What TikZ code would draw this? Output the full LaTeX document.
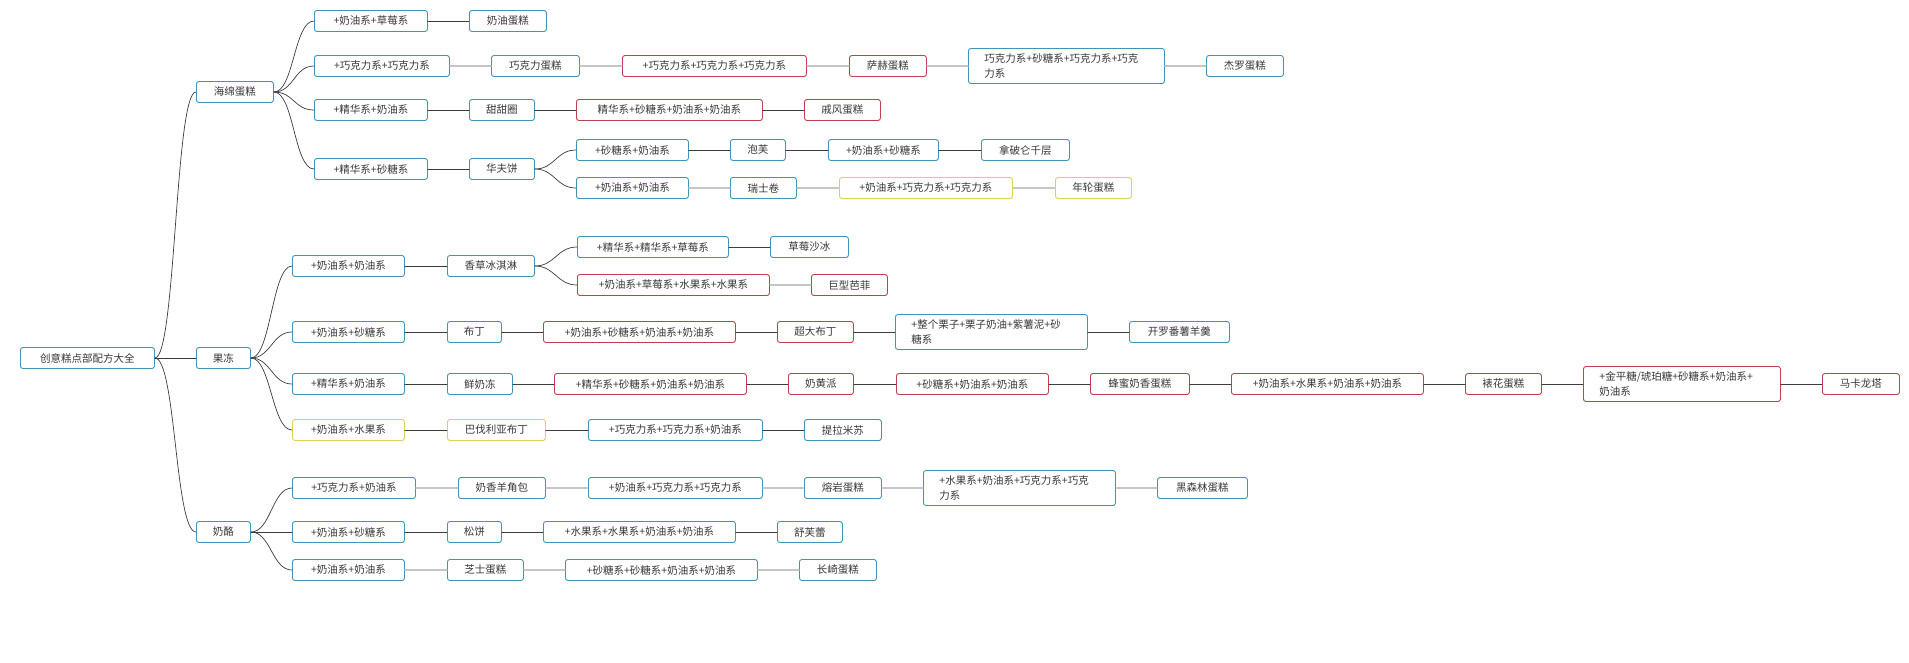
\documentclass[tikz,border=0pt]{standalone}
\usepackage{fontspec}
\newfontfamily\cjk{Noto Sans CJK SC}
\definecolor{bxblue}{HTML}{3A97BA}
\definecolor{bxred}{HTML}{C2404C}
\definecolor{bxyel}{HTML}{E2CF55}
\definecolor{lndark}{HTML}{3C3C3C}
\definecolor{lnlight}{HTML}{C6C6C6}
\tikzset{
  item/.style={draw, rounded corners=2.5pt, fill=white, line width=0.9pt, anchor=west,
    minimum height=21pt, inner xsep=0pt, inner ysep=2pt, text=black!78,
    font=\cjk\fontsize{10.5}{15}\selectfont},
  bb/.style={item, draw=bxblue},
  rb/.style={item, draw=bxred},
  yb/.style={item, draw=bxyel},
  twoline/.style={minimum height=35pt, align=left},
  dk/.style={draw=lndark, line width=0.9pt},
  lt/.style={draw=lnlight, line width=1.1pt},
  fork/.style={draw=lndark, line width=0.7pt},
}
\begin{document}
\begin{tikzpicture}[x=1pt, y=-1pt, line cap=round, line join=round]
    \useasboundingbox[fill=white] (0,0) rectangle (1909,662);
    % root and the three groups
    \node[bb, minimum width=134] (root) at (20,358) {创意糕点部配方大全};
    \node[bb, minimum width=77] (hm) at (196,92) {海绵蛋糕};
    \node[bb, minimum width=54] (gd) at (196,358) {果冻};
    \node[bb, minimum width=54] (nl) at (196,532) {奶酪};
    % 海绵蛋糕
    \node[bb, minimum width=113] (a1) at (314,21) {+奶油系+草莓系};
    \node[bb, minimum width=77] (a2) at (469,21) {奶油蛋糕};
    \node[bb, minimum width=135] (b1) at (314,66) {+巧克力系+巧克力系};
    \node[bb, minimum width=88] (b2) at (491,66) {巧克力蛋糕};
    \node[rb, minimum width=184] (b3) at (622,66) {+巧克力系+巧克力系+巧克力系};
    \node[rb, minimum width=77] (b4) at (849,66) {萨赫蛋糕};
    \node[bb, twoline, minimum width=196, text width=164pt] (b5) at (968,66) {巧克力系+砂糖系+巧克力系+巧克\\力系};
    \node[bb, minimum width=77] (b6) at (1206,66) {杰罗蛋糕};
    \node[bb, minimum width=113] (c1) at (314,110) {+精华系+奶油系};
    \node[bb, minimum width=65] (c2) at (469,110) {甜甜圈};
    \node[rb, minimum width=186] (c3) at (576,110) {精华系+砂糖系+奶油系+奶油系};
    \node[rb, minimum width=76] (c4) at (804,110) {戚风蛋糕};
    \node[bb, minimum width=113] (d1) at (314,169) {+精华系+砂糖系};
    \node[bb, minimum width=65] (d2) at (469,169) {华夫饼};
    \node[bb, minimum width=112] (e1) at (576,150) {+砂糖系+奶油系};
    \node[bb, minimum width=55] (e2) at (730,150) {泡芙};
    \node[bb, minimum width=110] (e3) at (828,150) {+奶油系+砂糖系};
    \node[bb, minimum width=88] (e4) at (981,150) {拿破仑千层};
    \node[bb, minimum width=112] (f1) at (576,188) {+奶油系+奶油系};
    \node[bb, minimum width=66] (f2) at (730,188) {瑞士卷};
    \node[yb, minimum width=173] (f3) at (839,188) {+奶油系+巧克力系+巧克力系};
    \node[yb, minimum width=76] (f4) at (1055,188) {年轮蛋糕};
    % 果冻
    \node[bb, minimum width=112] (g1) at (292,266) {+奶油系+奶油系};
    \node[bb, minimum width=87] (g2) at (447,266) {香草冰淇淋};
    \node[bb, minimum width=151] (h1) at (577,247) {+精华系+精华系+草莓系};
    \node[bb, minimum width=78] (h2) at (770,247) {草莓沙冰};
    \node[rb, minimum width=192] (i1) at (577,285) {+奶油系+草莓系+水果系+水果系};
    \node[rb, minimum width=76] (i2) at (811,285) {巨型芭菲};
    \node[bb, minimum width=112] (j1) at (292,332) {+奶油系+砂糖系};
    \node[bb, minimum width=54] (j2) at (447,332) {布丁};
    \node[rb, minimum width=192] (j3) at (543,332) {+奶油系+砂糖系+奶油系+奶油系};
    \node[rb, minimum width=76] (j4) at (777,332) {超大布丁};
    \node[bb, twoline, minimum width=192, text width=160pt] (j5) at (895,332) {+整个栗子+栗子奶油+紫薯泥+砂\\糖系};
    \node[bb, minimum width=100] (j6) at (1129,332) {开罗番薯羊羹};
    \node[bb, minimum width=112] (k1) at (292,384) {+精华系+奶油系};
    \node[bb, minimum width=65] (k2) at (447,384) {鲜奶冻};
    \node[rb, minimum width=192] (k3) at (554,384) {+精华系+砂糖系+奶油系+奶油系};
    \node[rb, minimum width=65] (k4) at (788,384) {奶黄派};
    \node[rb, minimum width=152] (k5) at (896,384) {+砂糖系+奶油系+奶油系};
    \node[rb, minimum width=99] (k6) at (1090,384) {蜂蜜奶香蛋糕};
    \node[rb, minimum width=192] (k7) at (1231,384) {+奶油系+水果系+奶油系+奶油系};
    \node[rb, minimum width=76] (k8) at (1465,384) {裱花蛋糕};
    \node[rb, twoline, minimum width=197, text width=165pt] (k9) at (1583,384) {+金平糖/琥珀糖+砂糖系+奶油系+\\奶油系};
    \node[rb, minimum width=77] (k10) at (1822,384) {马卡龙塔};
    \node[yb, minimum width=112] (l1) at (292,430) {+奶油系+水果系};
    \node[yb, minimum width=98] (l2) at (447,430) {巴伐利亚布丁};
    \node[bb, minimum width=174] (l3) at (588,430) {+巧克力系+巧克力系+奶油系};
    \node[bb, minimum width=77] (l4) at (804,430) {提拉米苏};
    % 奶酪
    \node[bb, minimum width=123] (m1) at (292,488) {+巧克力系+奶油系};
    \node[bb, minimum width=87] (m2) at (458,488) {奶香羊角包};
    \node[bb, minimum width=174] (m3) at (588,488) {+奶油系+巧克力系+巧克力系};
    \node[bb, minimum width=77] (m4) at (804,488) {熔岩蛋糕};
    \node[bb, twoline, minimum width=192, text width=160pt] (m5) at (923,488) {+水果系+奶油系+巧克力系+巧克\\力系};
    \node[bb, minimum width=90] (m6) at (1157,488) {黑森林蛋糕};
    \node[bb, minimum width=112] (n1) at (292,532) {+奶油系+砂糖系};
    \node[bb, minimum width=54] (n2) at (447,532) {松饼};
    \node[bb, minimum width=192] (n3) at (543,532) {+水果系+水果系+奶油系+奶油系};
    \node[bb, minimum width=65] (n4) at (777,532) {舒芙蕾};
    \node[bb, minimum width=112] (o1) at (292,570) {+奶油系+奶油系};
    \node[bb, minimum width=76] (o2) at (447,570) {芝士蛋糕};
    \node[bb, minimum width=192] (o3) at (565,570) {+砂糖系+砂糖系+奶油系+奶油系};
    \node[bb, minimum width=77] (o4) at (799,570) {长崎蛋糕};
    % curved forks
    \foreach \g in {hm,gd,nl} \draw[fork] (root.east) to[out=0,in=180,distance=21pt] (\g.west);
    \foreach \b in {a1,b1,c1,d1} \draw[fork] (hm.east) to[out=0,in=180,distance=20pt] (\b.west);
    \foreach \b in {g1,j1,k1,l1} \draw[fork] (gd.east) to[out=0,in=180,distance=20pt] (\b.west);
    \foreach \b in {m1,n1,o1} \draw[fork] (nl.east) to[out=0,in=180,distance=20pt] (\b.west);
    \foreach \b in {e1,f1} \draw[fork] (d2.east) to[out=0,in=180,distance=20pt] (\b.west);
    \foreach \b in {h1,i1} \draw[fork] (g2.east) to[out=0,in=180,distance=20pt] (\b.west);
    % straight links
    \foreach \p/\q in {a1/a2,c1/c2,c2/c3,c3/c4,d1/d2,e1/e2,e2/e3,e3/e4,g1/g2,h1/h2,
        j1/j2,j2/j3,j3/j4,j4/j5,j5/j6,k1/k2,k2/k3,k3/k4,k4/k5,k5/k6,k6/k7,k7/k8,k8/k9,k9/k10,
        l1/l2,l2/l3,l3/l4,n1/n2,n2/n3,n3/n4}
        \draw[dk] (\p.east) -- (\q.west);
    \foreach \p/\q in {b1/b2,b2/b3,b3/b4,b4/b5,b5/b6,f1/f2,f2/f3,f3/f4,i1/i2,
        m1/m2,m2/m3,m3/m4,m4/m5,m5/m6,o1/o2,o2/o3,o3/o4}
        \draw[lt] (\p.east) -- (\q.west);
\end{tikzpicture}
\end{document}
